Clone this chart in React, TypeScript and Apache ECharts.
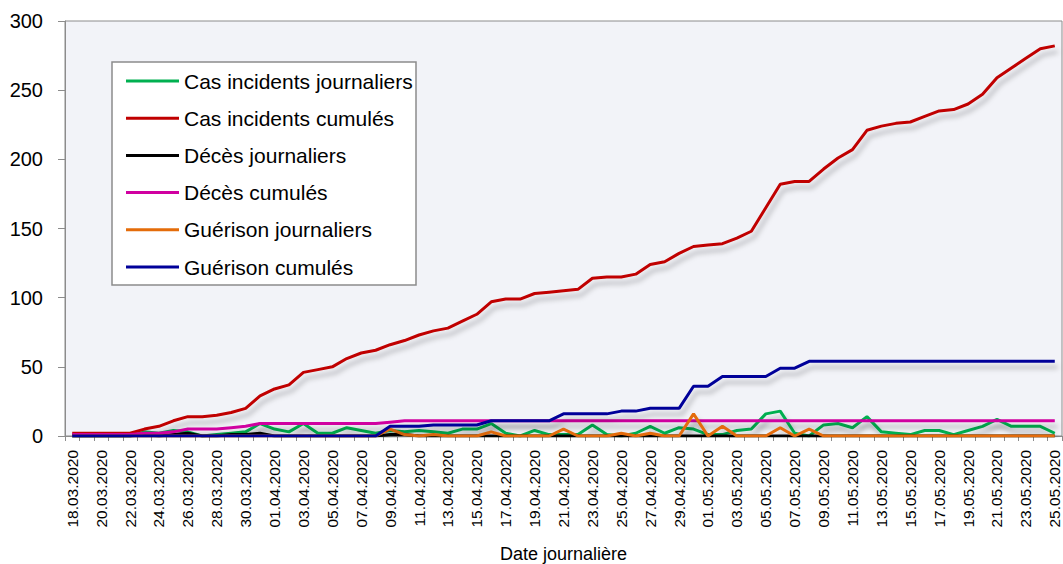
import React, { useEffect, useRef } from "react";
import * as echarts from "echarts";

const dates = [
  "18.03.2020", "19.03.2020", "20.03.2020", "21.03.2020", "22.03.2020", "23.03.2020", "24.03.2020",
  "25.03.2020", "26.03.2020", "27.03.2020", "28.03.2020", "29.03.2020", "30.03.2020", "31.03.2020",
  "01.04.2020", "02.04.2020", "03.04.2020", "04.04.2020", "05.04.2020", "06.04.2020", "07.04.2020",
  "08.04.2020", "09.04.2020", "10.04.2020", "11.04.2020", "12.04.2020", "13.04.2020", "14.04.2020",
  "15.04.2020", "16.04.2020", "17.04.2020", "18.04.2020", "19.04.2020", "20.04.2020", "21.04.2020",
  "22.04.2020", "23.04.2020", "24.04.2020", "25.04.2020", "26.04.2020", "27.04.2020", "28.04.2020",
  "29.04.2020", "30.04.2020", "01.05.2020", "02.05.2020", "03.05.2020", "04.05.2020", "05.05.2020",
  "06.05.2020", "07.05.2020", "08.05.2020", "09.05.2020", "10.05.2020", "11.05.2020", "12.05.2020",
  "13.05.2020", "14.05.2020", "15.05.2020", "16.05.2020", "17.05.2020", "18.05.2020", "19.05.2020",
  "20.05.2020", "21.05.2020", "22.05.2020", "23.05.2020", "24.05.2020", "25.05.2020",
];

const casJournaliers = [
  0, 0, 0, 0, 0, 3, 2, 4, 3, 0, 1, 2, 3, 9, 5, 3, 9, 2, 2, 6, 4, 2, 4, 3, 4, 3, 2, 5, 5, 9,
  2, 0, 4, 1, 1, 1, 8, 1, 0, 2, 7, 2, 6, 5, 1, 1, 4, 5, 16, 18, 2, 0, 8, 9, 6, 14, 3, 2, 1, 4,
  4, 1, 4, 7, 12, 7, 7, 7, 2,
];

const casCumules = [
  2, 2, 2, 2, 2, 5, 7, 11, 14, 14, 15, 17, 20, 29, 34, 37, 46, 48, 50, 56, 60, 62, 66, 69, 73,
  76, 78, 83, 88, 97, 99, 99, 103, 104, 105, 106, 114, 115, 115, 117, 124, 126, 132, 137, 138,
  139, 143, 148, 165, 182, 184, 184, 193, 201, 207, 221, 224, 226, 227, 231, 235, 236, 240, 247,
  259, 266, 273, 280, 282,
];

const decesJournaliers = [
  0, 0, 0, 0, 0, 1, 0, 1, 2, 0, 0, 1, 1, 2, 0, 0, 0, 0, 0, 0, 0, 0, 1, 1, 0, 0, 0, 0, 0, 0,
  0, 0, 0, 0, 0, 0, 0, 0, 0, 0, 0, 0, 0, 0, 0, 0, 0, 0, 0, 0, 0, 0, 0, 0, 0, 0, 0, 0, 0, 0,
  0, 0, 0, 0, 0, 0, 0, 0, 0,
];

const decesCumules = [
  1, 1, 1, 1, 1, 2, 2, 3, 5, 5, 5, 6, 7, 9, 9, 9, 9, 9, 9, 9, 9, 9, 10, 11, 11, 11, 11, 11, 11,
  11, 11, 11, 11, 11, 11, 11, 11, 11, 11, 11, 11, 11, 11, 11, 11, 11, 11, 11, 11, 11, 11, 11, 11,
  11, 11, 11, 11, 11, 11, 11, 11, 11, 11, 11, 11, 11, 11, 11, 11,
];

const guerisonJournaliers = [
  0, 0, 0, 0, 0, 0, 0, 0, 0, 0, 0, 0, 0, 0, 0, 0, 0, 0, 0, 0, 0, 0, 5, 1, 0, 1, 0, 0, 0, 3,
  0, 0, 0, 0, 5, 0, 0, 0, 2, 0, 2, 0, 0, 16, 0, 7, 0, 0, 0, 6, 0, 5, 0, 0, 0, 0, 0, 0, 0, 0,
  0, 0, 0, 0, 0, 0, 0, 0, 0,
];

const guerisonCumules = [
  0, 0, 0, 0, 0, 0, 0, 0, 0, 0, 0, 0, 0, 0, 0, 0, 0, 0, 0, 0, 0, 0, 7, 7, 7, 8, 8, 8, 8, 11,
  11, 11, 11, 11, 16, 16, 16, 16, 18, 18, 20, 20, 20, 36, 36, 43, 43, 43, 43, 49, 49, 54, 54,
  54, 54, 54, 54, 54, 54, 54, 54, 54, 54, 54, 54, 54, 54, 54, 54,
];

const yTicks = { min: 0, max: 300, step: 50 };

const seriesDefs = [
  { name: "Cas incidents journaliers", data: casJournaliers, color: "#00b050" },
  { name: "Cas incidents cumulés", data: casCumules, color: "#c00000" },
  { name: "Décès journaliers", data: decesJournaliers, color: "#000000" },
  { name: "Décès cumulés", data: decesCumules, color: "#d000a0" },
  { name: "Guérison journaliers", data: guerisonJournaliers, color: "#e46c0a" },
  { name: "Guérison cumulés", data: guerisonCumules, color: "#000099" },
];

const FONT = "'Liberation Sans', Arial, sans-serif";

export default function App() {
  const ref = useRef<HTMLDivElement>(null);
  useEffect(() => {
    if (!ref.current) return;
    const chart = echarts.init(ref.current, null, { renderer: "svg" });
    chart.setOption({
      animation: false,
      backgroundColor: "#ffffff",
      textStyle: { fontFamily: FONT },
      grid: {
        left: 65,
        right: 1,
        top: 21,
        bottom: 128,
        containLabel: false,
        outerBoundsMode: "none",
        show: true,
        backgroundColor: "#f2f3f8",
        borderColor: "#8c8c8c",
        borderWidth: 1,
      },
      graphic: [
        {
          type: "rect",
          z: 3,
          shape: { x: 112, y: 62, width: 304, height: 223 },
          style: { fill: "#ffffff", stroke: "#8c8c8c", lineWidth: 1.5 },
        },
      ],
      legend: {
        orient: "vertical",
        left: 126,
        top: 70.5,
        padding: 0,
        icon: "rect",
        itemWidth: 53,
        itemHeight: 3,
        itemGap: 16.2,
        z: 5,
        textStyle: { fontFamily: FONT, fontSize: 21, color: "#000" },
        data: seriesDefs.map((s) => s.name),
      },
      xAxis: {
        type: "category",
        data: dates,
        boundaryGap: true,
        axisLine: { lineStyle: { color: "#8c8c8c", width: 1 } },
        axisTick: { show: true, interval: 0, length: 5, lineStyle: { color: "#8c8c8c" } },
        axisLabel: {
          rotate: 90,
          interval: 1,
          margin: 14,
          fontSize: 15.5,
          color: "#000",
          fontFamily: FONT,
        },
        name: "Date journalière",
        nameLocation: "middle",
        nameGap: 109,
        nameTextStyle: { fontSize: 18, color: "#000", fontFamily: FONT },
        splitLine: { show: false },
      },
      yAxis: {
        type: "value",
        min: yTicks.min,
        max: yTicks.max,
        interval: yTicks.step,
        axisLine: { show: true, lineStyle: { color: "#8c8c8c", width: 1 } },
        axisTick: { show: true, length: 7, lineStyle: { color: "#8c8c8c" } },
        axisLabel: { fontSize: 20, color: "#000", margin: 22, fontFamily: FONT },
        splitLine: { show: false },
      },
      series: seriesDefs.map((s, i) => ({
        name: s.name,
        type: "line",
        data: s.data,
        symbol: "none",
        z: 2 + i * 0.01,
        itemStyle: { color: s.color },
        lineStyle: {
          color: s.color,
          width: 3,
          shadowColor: "rgba(0,0,0,0.25)",
          shadowBlur: 5,
          shadowOffsetX: 3,
          shadowOffsetY: 6,
        },
      })),
    });
    return () => chart.dispose();
  }, []);
  return (
    <div
      ref={ref}
      style={{ position: "absolute", left: 0, top: 0, width: 1063, height: 564 }}
    />
  );
}
